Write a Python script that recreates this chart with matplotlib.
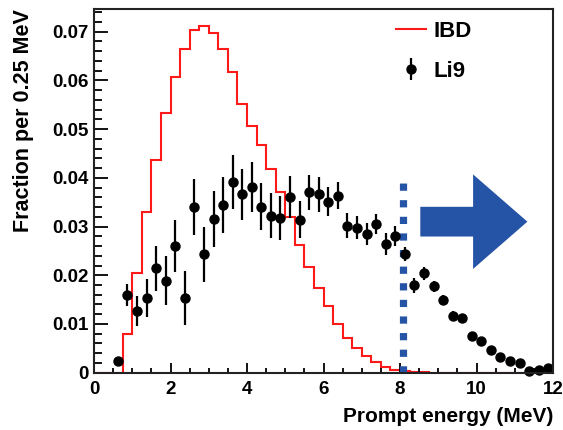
import numpy as np
import matplotlib.pyplot as plt
from matplotlib.patches import FancyArrow

plt.rcParams['font.family'] = ['Liberation Sans', 'DejaVu Sans']
plt.rcParams['font.weight'] = 'bold'

# IBD prompt spectrum, 0.25 MeV bins from 0 to 12 MeV
bin_edges = np.arange(0, 12.25, 0.25)
ibd_frac = [0, 0, 0,
            0.0079, 0.0205, 0.0329, 0.0437, 0.0533, 0.0608, 0.0664, 0.0704,
            0.0712, 0.0697, 0.0664, 0.0618, 0.0552, 0.0507, 0.0467, 0.0418,
            0.0371, 0.0320, 0.0262, 0.0216, 0.0173, 0.0137, 0.0100, 0.0071,
            0.0050, 0.0034, 0.0021, 0.0011, 0.0006, 0.0004, 0.0002, 0.0001,
            0, 0, 0, 0, 0, 0, 0, 0, 0, 0, 0, 0, 0]

# Li9 prompt spectrum (bin centres, fraction, error)
li9_energy = np.arange(0.625, 12.0, 0.25)
li9_frac = [0.0023, 0.0160, 0.0127, 0.0154, 0.0214, 0.0189, 0.0260, 0.0153,
            0.0340, 0.0243, 0.0316, 0.0344, 0.0392, 0.0366, 0.0381, 0.0341,
            0.0322, 0.0317, 0.0361, 0.0314, 0.0370, 0.0366, 0.0351, 0.0363,
            0.0302, 0.0298, 0.0285, 0.0305, 0.0264, 0.0281, 0.0244, 0.0179,
            0.0204, 0.0177, 0.0149, 0.0117, 0.0113, 0.0076, 0.0066, 0.0047,
            0.0032, 0.0023, 0.0019, 0.0004, 0.0006, 0.0009]
li9_err = [0.0008, 0.0023, 0.0031, 0.0039, 0.0046, 0.0050, 0.0053, 0.0055,
           0.0058, 0.0057, 0.0057, 0.0057, 0.0055, 0.0052, 0.0051, 0.0048,
           0.0046, 0.0045, 0.0043, 0.0038, 0.0036, 0.0036, 0.0030, 0.0028,
           0.0025, 0.0024, 0.0023, 0.0020, 0.0022, 0.0020, 0.0015, 0.0015,
           0.0013, 0.0012, 0.0010, 0.0009, 0.0008, 0.0007, 0.0006, 0.0005,
           0.0004, 0.0004, 0.0003, 0.0002, 0.0002, 0.0003]

y_ticks = [0, 0.01, 0.02, 0.03, 0.04, 0.05, 0.06, 0.07]
y_tick_labels = ["0", "0.01", "0.02", "0.03", "0.04", "0.05", "0.06", "0.07"]
x_ticks = [0, 2, 4, 6, 8, 10, 12]

cut_energy = 8.08
cut_top = 0.0397
blue = '#2554a7'

fig = plt.figure(figsize=(5.63, 4.30), dpi=100)
ax = fig.add_axes([0.167, 0.1333, 0.8153, 0.8451])

ibd = ax.stairs(ibd_frac, bin_edges, color='#ff1a1a', linewidth=1.5, label='IBD')
li9 = ax.errorbar(li9_energy, li9_frac, yerr=li9_err, fmt='o', color='black',
                  markersize=6.5, elinewidth=1.6, capsize=0, label='Li9', clip_on=False)

# energy cut and arrow
ax.plot([cut_energy, cut_energy], [0, cut_top], color=blue, linewidth=5.2,
        linestyle=(0, (1.0, 1.3)), dash_capstyle='butt')
ax.add_patch(FancyArrow(8.53, 0.0310, 2.8, 0, width=0.0061, head_width=0.0194,
                        head_length=1.42, length_includes_head=True,
                        color=blue, linewidth=0))

ax.set_xlim(0, 12)
ax.set_ylim(0, 0.0746)
ax.set_xticks(x_ticks)
ax.set_xticks(np.arange(0, 12.01, 0.5), minor=True)
ax.set_yticks(y_ticks)
ax.set_yticklabels(y_tick_labels)
ax.set_yticks(np.arange(0, 0.0746, 0.002), minor=True)
ax.tick_params(axis='both', which='both', direction='in', top=False, right=False,
               labelsize=13.5, width=1.3)
ax.tick_params(axis='y', which='major', length=10, pad=4)
ax.tick_params(axis='y', which='minor', length=6)
ax.tick_params(axis='x', which='major', length=7, pad=6)
ax.tick_params(axis='x', which='minor', length=3.5)

for sp in ax.spines.values():
    sp.set_linewidth(1.5)
    sp.set_color('#222222')

ax.set_xlabel("Prompt energy (MeV)", loc='right', fontsize=15, fontweight='bold', labelpad=6.5)
ax.set_ylabel("Fraction per 0.25 MeV", loc='top', fontsize=15.5, fontweight='bold', labelpad=13)

ax.legend(handles=[ibd, li9], loc='upper left', bbox_to_anchor=(0.658, 0.968),
          frameon=False, fontsize=16, handlelength=1.35, handletextpad=0.35,
          labelspacing=0.85, borderpad=0, borderaxespad=0)

fig.savefig("out.png", dpi=100)
